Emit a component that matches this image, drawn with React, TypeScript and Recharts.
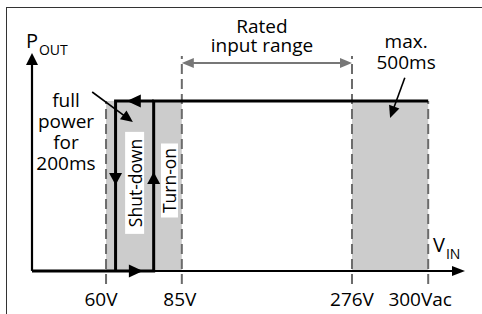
import React from 'react'
import {
  ComposedChart,
  XAxis,
  YAxis,
  Line,
  ReferenceArea,
  ReferenceLine,
  ReferenceDot,
} from 'recharts'

// Drawing units: x runs 0..100 along the V_IN axis, y runs -6..100 (0 = V_IN axis)
const TICK_POS = [17.1, 34.6, 73.9, 91.5]
const TICK_LABELS = ['60V', '85V', '276V', '300Vac']
// how high each dashed guide reaches
const GUIDE_TOPS = [78, 98.6, 98.6, 78]

const V_SHUTDOWN = 19.3
const V_TURNON = 28.1
const P_FULL = 78

// grey zones: under-voltage hysteresis and the 500ms surge window
const BANDS = [
  [TICK_POS[0], TICK_POS[1]],
  [TICK_POS[2], TICK_POS[3]],
]

// output power path (turn-on branch and shut-down branch)
const RISE_PATH = [
  { x: 0, y: 0 },
  { x: V_TURNON, y: 0 },
  { x: V_TURNON, y: P_FULL },
  { x: TICK_POS[3], y: P_FULL },
]
const FALL_PATH = [
  { x: V_TURNON, y: P_FULL },
  { x: V_SHUTDOWN, y: P_FULL },
  { x: V_SHUTDOWN, y: 0 },
]

// direction markers sitting on the path: [fromX, fromY, toX, toY]
const PATH_MARKS = [
  [25.4, P_FULL, 21.9, P_FULL],
  [V_SHUTDOWN, 44.9, V_SHUTDOWN, 39.4],
  [V_TURNON, 40.4, V_TURNON, 45.4],
  [22.2, 0, 25.6, 0],
]

const FONT = "'Open Sans', 'Noto Sans', sans-serif"
// tick labels sit a little left of their guides in the original
const TICK_DX = [-5, -2, 0, -8]

type ArrowOpts = {
  color: string
  width: number
  len: number
  half: number
  line?: boolean
  both?: boolean
}

const head = (x: number, y: number, ux: number, uy: number, o: ArrowOpts) => {
  const bx = x - ux * o.len
  const by = y - uy * o.len
  const pts = [
    `${x},${y}`,
    `${bx - uy * o.half},${by + ux * o.half}`,
    `${bx + uy * o.half},${by - ux * o.half}`,
  ].join(' ')
  return <polygon points={pts} fill={o.color} />
}

const arrowShape = (o: ArrowOpts) => (props: any) => {
  const { x1, y1, x2, y2 } = props
  if ([x1, y1, x2, y2].some((v) => v == null || isNaN(v))) return <g />
  const dx = x2 - x1
  const dy = y2 - y1
  const d = Math.hypot(dx, dy) || 1
  const ux = dx / d
  const uy = dy / d
  const sx = o.both ? x1 + ux * o.len * 0.8 : x1
  const sy = o.both ? y1 + uy * o.len * 0.8 : y1
  return (
    <g>
      {o.line !== false && (
        <line
          x1={sx}
          y1={sy}
          x2={x2 - ux * o.len * 0.8}
          y2={y2 - uy * o.len * 0.8}
          stroke={o.color}
          strokeWidth={o.width}
        />
      )}
      {head(x2, y2, ux, uy, o)}
      {o.both && head(x1, y1, -ux, -uy, o)}
    </g>
  )
}

const textBlock =
  (lines: string[], lineHeight: number, anchor: 'start' | 'middle' = 'middle') =>
  (props: any) => (
    <text
      x={props.cx}
      y={props.cy}
      textAnchor={anchor}
      fontFamily={FONT}
      fontSize={19}
      fill="#000"
    >
      {lines.map((s, i) => (
        <tspan key={i} x={props.cx} dy={i === 0 ? 0 : lineHeight}>
          {s}
        </tspan>
      ))}
    </text>
  )

const subLabel = (main: string, sub: string) => (props: any) => (
  <text x={props.cx} y={props.cy} fontFamily={FONT} fill="#000">
    <tspan fontSize={20}>{main}</tspan>
    <tspan fontSize={14} dx={1} dy={7}>
      {sub}
    </tspan>
  </text>
)

const boxedVertical = (label: string, w: number, h: number) => (props: any) => {
  const { cx, cy } = props
  return (
    <g>
      <rect x={cx - w / 2} y={cy - h / 2} width={w} height={h} fill="#fff" />
      <text
        x={cx}
        y={cy}
        transform={`rotate(-90 ${cx} ${cy})`}
        textAnchor="middle"
        dominantBaseline="central"
        fontFamily={FONT}
        fontSize={17.5}
        fill="#000"
      >
        {label}
      </text>
    </g>
  )
}

const renderTick = (props: any) => {
  const { x, y, index } = props
  return (
    <text
      x={x + (TICK_DX[index] ?? 0)}
      y={y + 22}
      textAnchor="middle"
      fontFamily={FONT}
      fontSize={19}
      fill="#000"
    >
      {TICK_LABELS[index]}
    </text>
  )
}

const blackHead: ArrowOpts = { color: '#000', width: 3, len: 14, half: 6.5, line: false }

export default function App() {
  return (
    <div style={{ position: 'absolute', left: 0, top: 0, width: 482, height: 314, background: '#fff' }}>
      {/* frame edges of the original figure */}
      <div
        style={{
          position: 'absolute',
          left: 6,
          top: 7,
          width: 476,
          height: 307,
          borderTop: '1px solid #333',
          borderLeft: '1px solid #333',
        }}
      />
      <div style={{ position: 'absolute', left: 0, top: 0 }}>
        <ComposedChart
          width={482}
          height={314}
          margin={{ top: 53, right: 17, bottom: 0, left: 32 }}
        >
          <XAxis
            dataKey="x"
            type="number"
            domain={[0, 100]}
            ticks={TICK_POS}
            interval={0}
            axisLine={false}
            tickLine={false}
            tickSize={0}
            tickMargin={0}
            height={30}
            tick={renderTick}
            allowDataOverflow
          />
          <YAxis type="number" domain={[-6, 100]} hide allowDataOverflow />

          {BANDS.map(([a, b], i) => (
            <ReferenceArea
              key={`band-${i}`}
              x1={a}
              x2={b}
              y1={0}
              y2={P_FULL}
              fill="#cccccc"
              fillOpacity={1}
              stroke="none"
              ifOverflow="visible"
            />
          ))}

          {TICK_POS.map((v, i) => (
            <ReferenceLine
              key={`guide-${i}`}
              segment={[
                { x: v, y: -6 },
                { x: v, y: GUIDE_TOPS[i] },
              ]}
              stroke="#6b6b6b"
              strokeWidth={2}
              strokeDasharray="10 5"
              ifOverflow="visible"
            />
          ))}

          {/* rated input range */}
          <ReferenceLine
            segment={[
              { x: TICK_POS[1], y: 95.4 },
              { x: TICK_POS[2], y: 95.4 },
            ]}
            ifOverflow="visible"
            shape={arrowShape({ color: '#777', width: 2, len: 12, half: 5, both: true })}
          />

          {/* axes */}
          <ReferenceLine
            segment={[
              { x: 0, y: 0 },
              { x: 0, y: 100 },
            ]}
            ifOverflow="visible"
            shape={arrowShape({ color: '#000', width: 2.2, len: 12, half: 6 })}
          />
          <ReferenceLine
            segment={[
              { x: 0, y: 0 },
              { x: 100, y: 0 },
            ]}
            ifOverflow="visible"
            shape={arrowShape({ color: '#000', width: 2, len: 13, half: 5 })}
          />

          {/* callout arrows */}
          <ReferenceLine
            segment={[
              { x: 13.9, y: 82.1 },
              { x: 23.3, y: 68.3 },
            ]}
            ifOverflow="visible"
            shape={arrowShape({ color: '#000', width: 1.6, len: 12, half: 5.5 })}
          />
          <ReferenceLine
            segment={[
              { x: 86.1, y: 88.6 },
              { x: 82.7, y: 70.2 },
            ]}
            ifOverflow="visible"
            shape={arrowShape({ color: '#000', width: 1.6, len: 12, half: 5.5 })}
          />

          {/* vertical white-boxed labels */}
          <ReferenceDot
            x={23.7}
            y={40.4}
            r={0}
            ifOverflow="visible"
            shape={boxedVertical('Shut-down', 19, 102)}
          />
          <ReferenceDot
            x={31.75}
            y={41.5}
            r={0}
            ifOverflow="visible"
            shape={boxedVertical('Turn-on', 17, 74)}
          />

          <Line
            data={RISE_PATH}
            dataKey="y"
            type="linear"
            stroke="#000"
            strokeWidth={3}
            strokeLinejoin="miter"
            dot={false}
            activeDot={false}
            isAnimationActive={false}
          />
          <Line
            data={FALL_PATH}
            dataKey="y"
            type="linear"
            stroke="#000"
            strokeWidth={3}
            strokeLinejoin="miter"
            dot={false}
            activeDot={false}
            isAnimationActive={false}
          />

          {PATH_MARKS.map(([x1, y1, x2, y2], i) => (
            <ReferenceLine
              key={`mark-${i}`}
              segment={[
                { x: x1, y: y1 },
                { x: x2, y: y2 },
              ]}
              ifOverflow="visible"
              shape={arrowShape({ ...blackHead, len: i === 0 || i === 3 ? 14 : 12 })}
            />
          ))}

          {/* text annotations */}
          <ReferenceDot x={-1.4} y={102.3} r={0} ifOverflow="visible" shape={subLabel('P', 'OUT')} />
          <ReferenceDot x={92.6} y={8.7} r={0} ifOverflow="visible" shape={subLabel('V', 'IN')} />
          <ReferenceDot
            x={53.1}
            y={109}
            r={0}
            ifOverflow="visible"
            shape={textBlock(['Rated', 'input range'], 19)}
          />
          <ReferenceDot
            x={7.85}
            y={75.3}
            r={0}
            ifOverflow="visible"
            shape={textBlock(['full', 'power', 'for', '200ms'], 21)}
          />
          <ReferenceDot
            x={86.4}
            y={102.3}
            r={0}
            ifOverflow="visible"
            shape={textBlock(['max.', '500ms'], 21)}
          />
        </ComposedChart>
      </div>
    </div>
  )
}
